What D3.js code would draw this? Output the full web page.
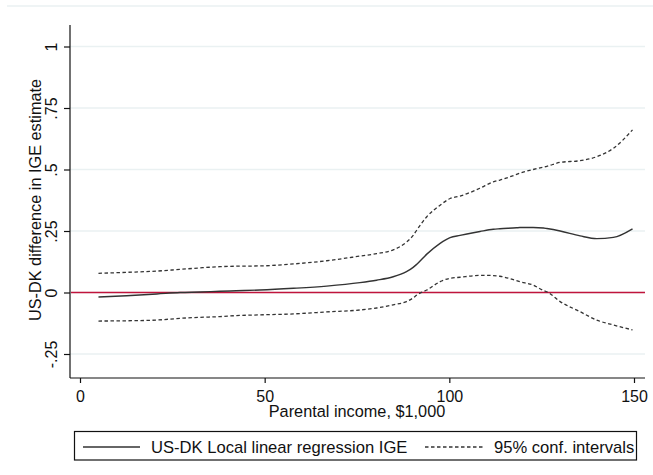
<!DOCTYPE html>
<html>
  <head>
    <meta charset="utf-8">
    <script src="https://cdnjs.cloudflare.com/ajax/libs/d3/7.8.5/d3.min.js"></script>
    <style type="text/css">
      body { margin: 0; background: #fff; }
      text { font-family: "Liberation Sans", Arial, sans-serif; fill: #111; }
      .grid line { stroke: #eaf1f2; stroke-width: 1.5; }
      .axis path, .axis line { stroke: #111; stroke-width: 1.2; }
      .line { fill: none; stroke: #333; }
    </style>
  </head>
  <body>
    <div class="plot_canvas"></div>
    <script>

      // data
      var income = [5, 12.6, 20.8, 27.1, 32.5, 37.9, 42.3, 48.7, 57.8, 66.8, 75.8, 80.3, 84.8, 88.4, 90.2, 91.2, 93.9, 97.5, 100.2, 102.9, 106.5, 108.3, 111.9, 113.7, 118.2, 119.1, 122.7, 125.5, 126.4, 130, 135.4, 139.9, 144.4, 149.6];
      var estimate = [-0.018, -0.013, -0.006, 0, 0.002, 0.005, 0.007, 0.01, 0.017, 0.026, 0.04, 0.05, 0.064, 0.085, 0.102, 0.115, 0.156, 0.2, 0.223, 0.232, 0.243, 0.248, 0.257, 0.259, 0.263, 0.264, 0.264, 0.262, 0.26, 0.25, 0.23, 0.219, 0.224, 0.259];
      var upper = [0.078, 0.082, 0.087, 0.094, 0.1, 0.105, 0.107, 0.108, 0.116, 0.129, 0.148, 0.158, 0.173, 0.205, 0.232, 0.254, 0.308, 0.355, 0.382, 0.392, 0.412, 0.424, 0.45, 0.457, 0.48, 0.485, 0.5, 0.51, 0.513, 0.529, 0.536, 0.552, 0.586, 0.661];
      var lower = [-0.116, -0.115, -0.112, -0.105, -0.101, -0.098, -0.094, -0.091, -0.087, -0.079, -0.071, -0.063, -0.05, -0.037, -0.022, -0.01, 0.01, 0.044, 0.058, 0.062, 0.068, 0.07, 0.069, 0.066, 0.048, 0.044, 0.03, 0.008, 0.003, -0.037, -0.078, -0.112, -0.132, -0.152];
      var xTicks = [0, 50, 100, 150];
      var yTicks = [-0.25, 0, 0.25, 0.5, 0.75, 1];
      var yTickLabels = ["-.25", "0", ".25", ".5", ".75", "1"];
      var legendLabels = ["US-DK Local linear regression IGE", "95% conf. intervals"];

      var width = 653;
      var height = 475;
      var margin = {top: 25, right: 8, bottom: 97, left: 70};

      var xScale = d3.scaleLinear()
      .domain([0, 150])
      .range([80, 634]);

      var yScale = d3.scaleLinear()
      .domain([0, 1])
      .range([292.5, 46.5]);

      var svg = d3.select(".plot_canvas")
      .append("svg")
      .attr("width", width)
      .attr("height", height);

      // faint frame line at the top
      svg.append("line")
      .attr("x1", 7).attr("x2", width)
      .attr("y1", 6).attr("y2", 6)
      .attr("stroke", "#eaf1f2")
      .attr("stroke-width", 1.5);

      // grid
      svg.append("g")
      .attr("class", "grid")
      .selectAll("line")
      .data(yTicks).enter()
      .append("line")
      .attr("x1", margin.left)
      .attr("x2", 645)
      .attr("y1", function(d) { return yScale(d); })
      .attr("y2", function(d) { return yScale(d); });

      // reference line at zero
      svg.append("line")
      .attr("x1", margin.left + 1)
      .attr("x2", 645)
      .attr("y1", yScale(0))
      .attr("y2", yScale(0))
      .attr("stroke", "#c0143c")
      .attr("stroke-width", 1.3);

      var line = d3.line()
      .x(function(d) { return xScale(d[0]); })
      .y(function(d) { return yScale(d[1]); })
      .curve(d3.curveMonotoneX);

      function pairs(ys) {
        return income.map(function(x, i) { return [x, ys[i]]; });
      }

      svg.append("path")
      .attr("class", "line")
      .attr("stroke-width", 1.3)
      .attr("stroke-dasharray", "3.5,2.5")
      .attr("d", line(pairs(upper)));

      svg.append("path")
      .attr("class", "line")
      .attr("stroke-width", 1.3)
      .attr("stroke-dasharray", "3.5,2.5")
      .attr("d", line(pairs(lower)));

      svg.append("path")
      .attr("class", "line")
      .attr("stroke-width", 1.4)
      .attr("d", line(pairs(estimate)));

      // axes
      var xAxis = d3.axisBottom(xScale)
      .tickValues(xTicks)
      .tickSize(5)
      .tickSizeOuter(0)
      .tickPadding(8);

      var gx = svg.append("g")
      .attr("class", "axis")
      .attr("transform", "translate(0,378)")
      .call(xAxis);
      gx.select(".domain").attr("d", "M" + margin.left + ",0H645");
      gx.selectAll("text")
      .attr("font-size", "16px")
      .attr("fill", "#111");

      var yAxis = d3.axisLeft(yScale)
      .tickValues(yTicks)
      .tickFormat(function(d, i) { return yTickLabels[i]; })
      .tickSize(6)
      .tickSizeOuter(0);

      var gy = svg.append("g")
      .attr("class", "axis")
      .attr("transform", "translate(" + margin.left + ",0)")
      .call(yAxis);
      gy.select(".domain").attr("d", "M0,25V378");
      gy.selectAll(".tick text")
      .attr("font-size", "16px")
      .attr("fill", "#111")
      .attr("x", null)
      .attr("dy", null)
      .attr("text-anchor", "middle")
      .attr("transform", "translate(-13,0) rotate(-90)");

      // axis titles
      svg.append("text")
      .attr("x", 357)
      .attr("y", 417)
      .attr("text-anchor", "middle")
      .attr("font-size", "16.3px")
      .text("Parental income, $1,000");

      svg.append("text")
      .attr("transform", "translate(41,200) rotate(-90)")
      .attr("text-anchor", "middle")
      .attr("font-size", "16.3px")
      .text("US-DK difference in IGE estimate");

      // legend
      var legend = svg.append("g");
      legend.append("rect")
      .attr("x", 74.5).attr("y", 431.5)
      .attr("width", 562).attr("height", 28.5)
      .attr("fill", "none")
      .attr("stroke", "#111")
      .attr("stroke-width", 1.2);

      legend.append("line")
      .attr("x1", 83).attr("x2", 140)
      .attr("y1", 447).attr("y2", 447)
      .attr("stroke", "#333").attr("stroke-width", 1.3);
      legend.append("text")
      .attr("x", 151).attr("y", 453)
      .attr("font-size", "16.6px")
      .text(legendLabels[0]);

      legend.append("line")
      .attr("x1", 425).attr("x2", 483)
      .attr("y1", 447).attr("y2", 447)
      .attr("stroke", "#333").attr("stroke-width", 1.3)
      .attr("stroke-dasharray", "3.5,2.5");
      legend.append("text")
      .attr("x", 494).attr("y", 453)
      .attr("font-size", "16.6px")
      .text(legendLabels[1]);

    </script>
  </body>
</html>
